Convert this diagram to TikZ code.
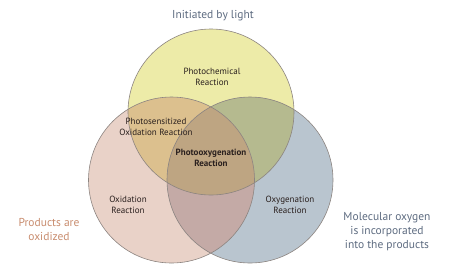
\documentclass[tikz,border=0pt]{standalone}
\usepackage{fontspec}
\setmainfont{PT Sans}
\definecolor{cyel}{HTML}{EDEBA8}
\definecolor{cpink}{HTML}{E9D2C8}
\definecolor{cblue}{HTML}{B9C5CF}
\definecolor{cyp}{HTML}{DCC08E}
\definecolor{cyb}{HTML}{B5BA8F}
\definecolor{cpb}{HTML}{C4AAA6}
\definecolor{call}{HTML}{BEA582}
\definecolor{cedge}{HTML}{8C8480}
\definecolor{slate}{HTML}{5D6B80}
\definecolor{salmon}{HTML}{C88C6E}
\definecolor{ink}{HTML}{2A201E}
\tikzset{
  venn/.style={circle, draw=cedge, line width=0.6pt, minimum size=166pt, inner sep=0pt},
  lab/.style={align=center, text=ink, font=\fontsize{9}{11}\selectfont, inner sep=0pt},
  note/.style={align=center, font=\fontsize{11.5}{14}\selectfont, inner sep=0pt}
}
\begin{document}
\begin{tikzpicture}[x=1pt,y=-1pt]
\useasboundingbox (0,0) rectangle (449,277);
\def\ctop{(211,112) circle[radius=83pt]}
\def\cleft{(171.5,180) circle[radius=83pt]}
\def\cright{(250,180) circle[radius=83pt]}
\fill[cyel] \ctop;
\fill[cpink] \cleft;
\fill[cblue] \cright;
\begin{scope}\clip \ctop; \fill[cyp] \cleft; \end{scope}
\begin{scope}\clip \ctop; \fill[cyb] \cright; \end{scope}
\begin{scope}\clip \cleft; \fill[cpb] \cright; \end{scope}
\begin{scope}\clip \ctop; \clip \cleft; \fill[call] \cright; \end{scope}
\node[venn] (top) at (211,112) {};
\node[venn] (left) at (171.5,180) {};
\node[venn] (right) at (250,180) {};
\node[note, text=slate] (light) at (213,16) {Initiated by light};
\node[lab] (photochem) at (212,76.5) {Photochemical\\Reaction};
\node[lab] (photosens) at (156,126.5) {Photosensitized\\Oxidation Reaction};
\node[lab, font=\fontsize{9}{11}\selectfont\bfseries] (photoox) at (211,157.5) {Photooxygenation\\Reaction};
\node[lab] (oxid) at (128,204.5) {Oxidation\\Reaction};
\node[lab] (oxyg) at (290,204.5) {Oxygenation\\Reaction};
\node[note, text=salmon] (prod) at (49,229) {Products are\\oxidized};
\node[note, text=slate] (mol) at (387,232) {Molecular oxygen\\is incorporated\\into the products};
\end{tikzpicture}
\end{document}
